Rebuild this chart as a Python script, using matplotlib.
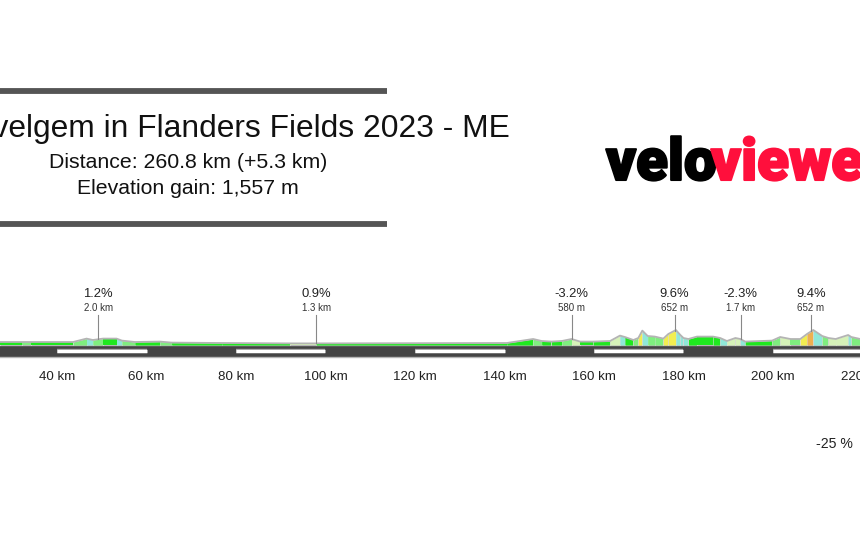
#!/usr/bin/env python3
"""VeloViewer route profile, Gent-Wevelgem 2023."""
import matplotlib
matplotlib.use('Agg')
import matplotlib.pyplot as plt
from matplotlib.patheffects import withStroke

W, H = 860, 546

title = 'Gent-Wevelgem in Flanders Fields 2023 - ME'
distance_text = 'Distance: 260.8 km (+5.3 km)'
gain_text = 'Elevation gain: 1,557 m'
bottom_label = '-25 %'

# profile, km and metres
dist_km = [25, 27.3, 32.1, 34.3, 43.6, 46.6, 48, 50.3, 53.3, 54.5, 57.4, 63, 65.6, 76.8, 92, 97.9,
           140.5, 146.4, 148.3, 150.5, 152.8, 155, 156.9, 159.8, 163.6, 165.8, 166.9, 168.8, 169.9,
           170.8, 172, 173.6, 175.5, 176.6, 178.3, 179.3, 180, 181.1, 183, 186.6, 188.2, 189.7,
           191.6, 192.7, 193.8, 199.8, 201.6, 203.9, 206.1, 207.6, 209, 211, 212.4, 214, 216.8,
           217.5, 219.5]
elev_m = [15, 15, 15, 15, 15, 32, 25, 32, 32, 22, 15, 17, 12, 10, 8, 8,
          10, 30, 20, 17, 20, 30, 17, 17, 20, 47, 40, 25, 35,
          72, 45, 42, 32, 55, 75, 50, 35, 30, 42, 42, 35, 20,
          35, 30, 17, 22, 40, 30, 30, 55, 75, 45, 35, 30, 50,
          40, 30]
# gradient class of the stretch after each profile point
seg_class = ['g', 'g', 'm', 'g', 'm', 'c', 'm', 'g', 'c', 'm', 'g', 'm', 'g', 'g', 'p',
             'g', 'g', 'm', 'g', 'g', 'm', 'p', 'g', 'g', 'p', 'c', 'g', 'm', 'y',
             'c', 'm', 'm', 'y', 'y', 'c', 'c', 'c', 'g', 'g', 'g', 'c', 'p',
             'p', 'c', 'g', 'm', 'p', 'm', 'y', 'o', 'c', 'm', 'p', 'p', 'c', 'm']
class_colors = {'g': '#1fe81f', 'm': '#7fee7f', 'p': '#d6f2b8', 'c': '#8fe8d8',
                'y': '#f2ee50', 'o': '#eeb050'}

km_ticks = [40, 60, 80, 100, 120, 140, 160, 180, 200, 220]
dash_starts = [40, 80, 120, 160, 200]

climb_km = [49.2, 97.9, 155, 178, 192.8, 208.5]
climb_grade = ['1.2%', '0.9%', '-3.2%', '9.6%', '-2.3%', '9.4%']
climb_len = ['2.0 km', '1.3 km', '580 m', '652 m', '1.7 km', '652 m']
climb_elev = [30, 8, 30, 72, 30, 72]

plt.rcParams['font.family'] = ['Liberation Sans', 'DejaVu Sans']

fig = plt.figure(figsize=(W / 100, H / 100), dpi=100)
ax = fig.add_axes([0, 0, 1, 1])
# 4.475 px per km, 0 km sits off the left edge; 1 px = 5 m with sea level at y=345
ax.set_xlim(122 / 4.475, (W + 122) / 4.475)
ax.set_ylim((345 - H) * 5, 345 * 5)
ax.axis('off')


def fx(px):
    return px / W


def fy(py):
    return 1 - py / H


# road band
ax.axhspan(-60, 0, color='#444444', lw=0, zorder=1)
ax.axhline(0, color='#b5b5b5', lw=1, zorder=2)
ax.axhline(-60, color='#b5b5b5', lw=1, zorder=2)
for s in dash_starts:
    ax.plot([s, s + 20], [-32, -32], color='white', lw=2.4, solid_capstyle='butt', zorder=3,
            path_effects=[withStroke(linewidth=3.2, foreground='#999999')])

# coloured profile
for i, c in enumerate(seg_class):
    ax.fill_between(dist_km[i:i + 2], 0, elev_m[i:i + 2], color=class_colors[c], lw=0, zorder=2)
    ax.plot([dist_km[i + 1]] * 2, [0, elev_m[i + 1]], color='#d8d8d8', lw=0.6, zorder=2)
ax.plot(dist_km, elev_m, color='#b4b4b4', lw=1.3, zorder=3)

for k in km_ticks:
    ax.text(k, -160, f'{k} km', ha='center', va='center', fontsize=9.6, color='#222222')

for k, g, l, e in zip(climb_km, climb_grade, climb_len, climb_elev):
    ax.plot([k, k], [e, 150], color='#888888', lw=0.8, zorder=4)
    ax.text(k, 255, g, ha='center', va='center', fontsize=9.4, color='#222222')
    ax.text(k, 185, l, ha='center', va='center', fontsize=7, color='#333333')

# title block
for py in (90.5, 224):
    fig.add_artist(plt.Line2D([0, fx(387)], [fy(py), fy(py)], color='#555555', lw=4.2,
                              solid_capstyle='butt'))
fig.text(fx(188), fy(129), title, ha='center', va='center', fontsize=22.9, color='#111111')
fig.text(fx(188), fy(162.5), distance_text, ha='center', va='center', fontsize=15.3, color='#111111')
fig.text(fx(188), fy(189), gain_text, ha='center', va='center', fontsize=15.3, color='#111111')

# logo
logo_font = ['Roboto', 'DejaVu Sans']
fig.text(fx(606), fy(180), 'velo', ha='left', va='baseline', fontsize=42, color='black',
         family=logo_font, weight='black',
         path_effects=[withStroke(linewidth=1.5, foreground='black')])
fig.text(fx(711), fy(180), 'viewer', ha='left', va='baseline', fontsize=42, color='#ff0f3c',
         family=logo_font, weight='black',
         path_effects=[withStroke(linewidth=1.5, foreground='#ff0f3c')])

fig.text(fx(834), fy(444), bottom_label, ha='center', va='center', fontsize=10.2, color='#222222')

fig.savefig('out.png', dpi=100)
